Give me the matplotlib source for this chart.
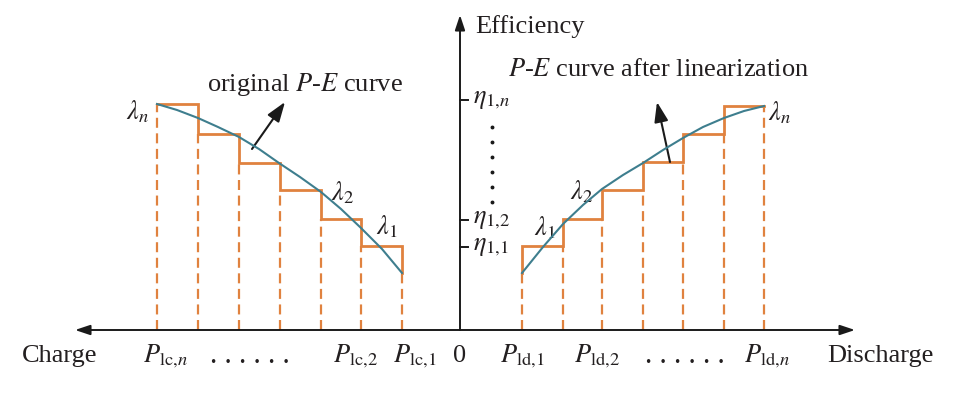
import numpy as np
import matplotlib
matplotlib.use("Agg")
import matplotlib.pyplot as plt

plt.rcParams['font.family'] = ['Liberation Serif', 'DejaVu Serif']
plt.rcParams['mathtext.fontset'] = 'stix'
plt.rcParams['text.color'] = '#231F20'

# power break points (charge side negative, discharge side positive), inner -> outer
p_charge = [-5.8, -9.9, -13.9, -18.0, -22.1, -26.2, -30.3]
p_discharge = [6.2, 10.3, 14.2, 18.3, 22.3, 26.4, 30.4]

# linearized efficiency level of each segment, inner -> outer
eta_charge = [8.4, 11.1, 14.0, 16.7, 19.6, 22.6]
eta_discharge = [8.4, 11.1, 14.0, 16.8, 19.6, 22.4]

# original P-E curves
curve_charge_p = [-30.3, -28.3, -26.2, -24.2, -22.1, -20.1, -18.1, -16.0, -13.9, -11.9, -9.9, -7.8, -5.8]
curve_charge_e = [22.6, 22.0, 21.2, 20.3, 19.3, 18.1, 16.7, 15.3, 13.8, 12.1, 10.2, 8.1, 5.7]
curve_discharge_p = [6.2, 8.3, 10.3, 12.3, 14.2, 16.3, 18.3, 20.3, 22.3, 24.3, 26.4, 28.4, 30.4]
curve_discharge_e = [5.7, 8.3, 10.6, 12.5, 14.1, 15.5, 16.7, 18.0, 19.2, 20.3, 21.2, 21.9, 22.4]

eta_ticks = [8.3, 11.0, 23.0]
eta_labels = [r'$\eta_{1{,}1}$', r'$\eta_{1{,}2}$', r'$\eta_{1{,}n}$']

x_labels = ['Charge', r'$P_{\mathrm{lc}{,}n}$', '. . . . . .', r'$P_{\mathrm{lc}{,}2}$',
            r'$P_{\mathrm{lc}{,}1}$', '0', r'$P_{\mathrm{ld}{,}1}$', r'$P_{\mathrm{ld}{,}2}$',
            '. . . . . .', r'$P_{\mathrm{ld}{,}n}$', 'Discharge']
x_label_pos = [-40.0, -29.5, -21.0, -10.5, -4.5, 0.0, 6.2, 13.7, 22.5, 30.7, 42.0]

ORANGE = '#E0823F'
TEAL = '#3E7E8E'
INK = '#1a1a1a'
FS = 19

fig = plt.figure(figsize=(9.56, 3.93), dpi=100)
ax = fig.add_axes([0, 0, 1, 1])
ax.set_xlim(-46.0, 49.6)
ax.set_ylim(-6.3, 33.0)
ax.axis('off')


def draw_side(edges, levels, cp, ce):
    # staircase starts where the curve ends on the inner edge
    start = ce[-1] if cp[-1] == edges[0] else ce[0]
    xs = [edges[0], edges[0]]
    ys = [start, levels[0]]
    for i, lv in enumerate(levels):
        xs += [edges[i + 1]]
        ys += [lv]
        if i + 1 < len(levels):
            xs += [edges[i + 1]]
            ys += [levels[i + 1]]
    ax.plot(xs, ys, color=ORANGE, lw=2.0, zorder=3, solid_joinstyle='miter')
    tops = [start] + list(levels)
    for x, t in zip(edges, tops):
        ax.plot([x, x], [0, t], color=ORANGE, lw=1.6, ls=(0, (4.5, 2.5)), zorder=2)
    ax.plot(cp, ce, color=TEAL, lw=1.5, zorder=4)


draw_side(p_charge, eta_charge, curve_charge_p, curve_charge_e)
draw_side(p_discharge, eta_discharge, curve_discharge_p, curve_discharge_e)

# axes with arrows
arrow = dict(arrowstyle='-|>,head_length=0.9,head_width=0.3', color=INK, lw=1.4,
             shrinkA=0, shrinkB=0)
ax.annotate('', xy=(-38.5, 0), xytext=(0, 0), arrowprops=arrow)
ax.annotate('', xy=(39.5, 0), xytext=(0, 0), arrowprops=arrow)
ax.annotate('', xy=(0, 31.5), xytext=(0, 0), arrowprops=arrow)
ax.text(1.5, 30.3, 'Efficiency', fontsize=FS, va='center', ha='left')

# efficiency ticks
for t, lab in zip(eta_ticks, eta_labels):
    ax.plot([0, 0.75], [t, t], color=INK, lw=1.4)
    ax.text(1.3, t, lab, fontsize=FS, va='center', ha='left')
ax.plot([3.2] * 6, np.linspace(12.8, 20.3, 6), ls='none', marker='o', ms=1.8, color=INK)

# power labels
for x, lab in zip(x_label_pos, x_labels):
    size = 21 if lab.startswith('.') else FS
    ax.text(x, -2.6, lab, fontsize=size, ha='center', va='center')

# lambda labels
lam = [(-32.2, 21.8, r'$\lambda_n$'), (-11.7, 13.7, r'$\lambda_2$'), (-7.3, 10.3, r'$\lambda_1$'),
       (8.5, 10.2, r'$\lambda_1$'), (12.2, 13.8, r'$\lambda_2$'), (32.0, 21.7, r'$\lambda_n$')]
for x, y, s in lam:
    ax.text(x, y, s, fontsize=FS, ha='center', va='center')

# annotations
pointer = dict(arrowstyle='-|>,head_length=1.2,head_width=0.42', color=INK, lw=1.5,
               shrinkA=0, shrinkB=0)
ax.text(-15.5, 24.5, 'original $P$-$E$ curve', fontsize=FS, ha='center', va='center')
ax.annotate('', xy=(-17.5, 22.8), xytext=(-20.8, 18.1), arrowprops=pointer)
ax.text(4.8, 26.0, '$P$-$E$ curve after linearization', fontsize=FS, ha='left', va='center')
ax.annotate('', xy=(19.7, 22.8), xytext=(21.0, 16.8), arrowprops=pointer)

fig.savefig('out.png', dpi=100)
